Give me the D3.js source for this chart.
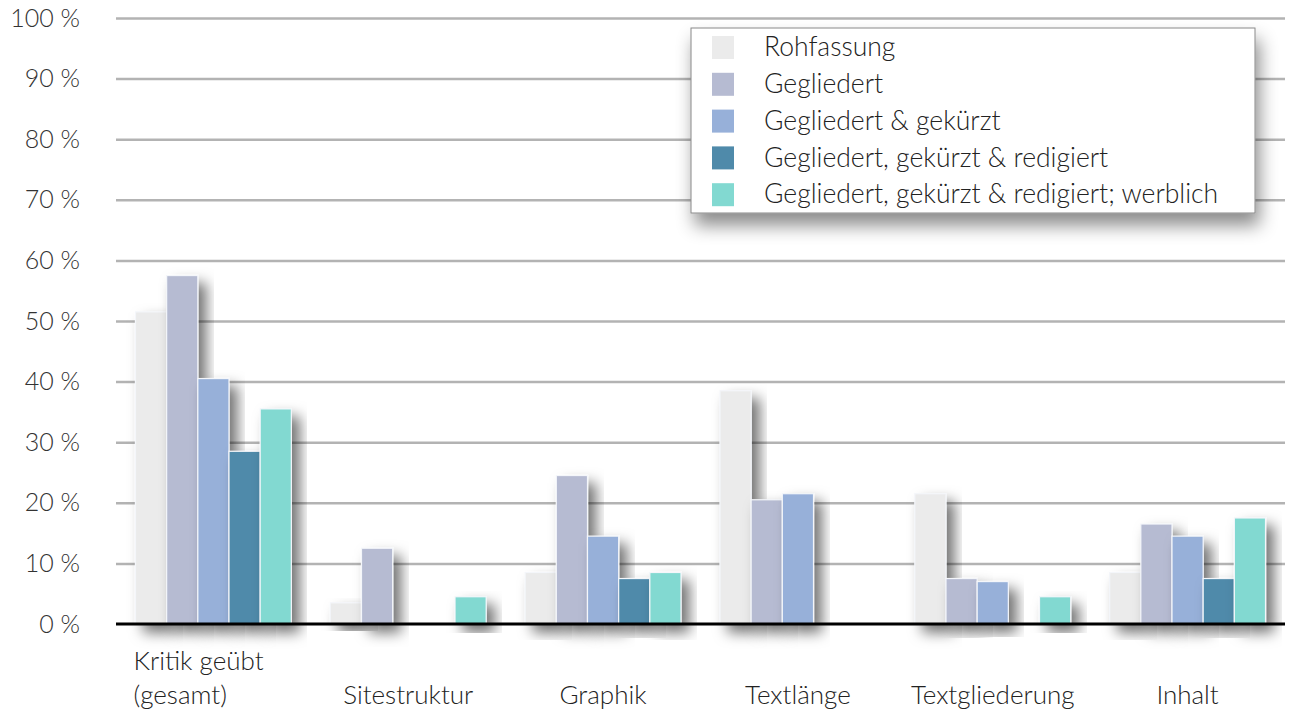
<!DOCTYPE html>
<html>
<head>
<meta charset="utf-8">
<script src="https://cdn.jsdelivr.net/npm/d3@7"></script>
<style>
  html, body { margin: 0; padding: 0; background: #fff; }
  svg { display: block; font-family: Lato, "Open Sans", sans-serif; font-weight: 300; }
</style>
</head>
<body>
<svg id="chart"></svg>
<script>
// categories on the x axis (two-line label for the first one)
const categories = ["Kritik geübt\n(gesamt)", "Sitestruktur", "Graphik", "Textlänge", "Textgliederung", "Inhalt"];
const seriesNames = [
  "Rohfassung",
  "Gegliedert",
  "Gegliedert & gekürzt",
  "Gegliedert, gekürzt & redigiert",
  "Gegliedert, gekürzt & redigiert; werblich"
];
const seriesColors = ["#ebebeb", "#b6bbd2", "#97b0d9", "#4f8aaa", "#82d9d1"];
// percent values per series, same order as categories (0 = no bar)
const rohfassung  = [51.5, 3.5, 8.5, 38.5, 21.5, 8.5];
const gegliedert  = [57.5, 12.5, 24.5, 20.5, 7.5, 16.5];
const gekuerzt    = [40.5, 0, 14.5, 21.5, 7, 14.5];
const redigiert   = [28.5, 0, 7.5, 0, 0, 7.5];
const werblich    = [35.5, 4.5, 8.5, 0, 4.5, 17.5];
const yTicks = [0, 10, 20, 30, 40, 50, 60, 70, 80, 90, 100];

const width = 1290;
const height = 713;
const marginTop = 18;
const marginRight = 5;
const marginBottom = 89;
const marginLeft = 116;

const allSeries = [rohfassung, gegliedert, gekuerzt, redigiert, werblich];
const data = [];
categories.forEach((c, i) => {
  allSeries.forEach((s, j) => {
    if (s[i] > 0) data.push({cat: c, key: seriesNames[j], value: s[i]});
  });
});

const x = d3.scaleBand()
    .domain(categories)
    .range([marginLeft, width - marginRight])
    .paddingInner(0.2)
    .paddingOuter(0.1);

const xs = d3.scaleBand()
    .domain(seriesNames)
    .range([0, x.bandwidth()]);

const y = d3.scaleLinear()
    .domain([0, 100])
    .range([height - marginBottom, marginTop]);

const color = d3.scaleOrdinal()
    .domain(seriesNames)
    .range(seriesColors);

const svg = d3.select("#chart")
    .attr("width", width)
    .attr("height", height)
    .attr("viewBox", [0, 0, width, height]);

// soft drop shadow used by bars and legend
const defs = svg.append("defs");
defs.append("filter")
    .attr("id", "shadow")
    .attr("x", "-50%").attr("y", "-20%")
    .attr("width", "200%").attr("height", "150%")
  .append("feDropShadow")
    .attr("dx", 8).attr("dy", 8)
    .attr("stdDeviation", 7)
    .attr("flood-color", "#000")
    .attr("flood-opacity", 0.55);
defs.append("filter")
    .attr("id", "shadowLegend")
    .attr("x", "-10%").attr("y", "-20%")
    .attr("width", "120%").attr("height", "160%")
  .append("feDropShadow")
    .attr("dx", 4).attr("dy", 12)
    .attr("stdDeviation", 9)
    .attr("flood-color", "#000")
    .attr("flood-opacity", 0.45);

// y axis with grid lines
svg.append("g")
    .attr("transform", `translate(${marginLeft},0)`)
    .call(d3.axisLeft(y).tickValues(yTicks).tickSize(0).tickPadding(36).tickFormat(d => d + " %"))
    .call(g => g.select(".domain").remove())
    .call(g => g.selectAll(".tick text")
        .attr("font-family", "Lato, sans-serif")
        .attr("font-weight", 300)
        .attr("font-size", 25)
        .attr("fill", "#333"))
    .call(g => g.selectAll(".tick").filter(d => d > 0).append("line")
        .attr("x2", width - marginLeft - marginRight)
        .attr("stroke", "#b3b3b3")
        .attr("stroke-width", 2.5));

// bars
svg.append("g")
  .selectAll("rect")
  .data(data)
  .join("rect")
    .attr("x", d => x(d.cat) + xs(d.key))
    .attr("y", d => y(d.value))
    .attr("width", xs.bandwidth())
    .attr("height", d => y(0) - y(d.value))
    .attr("fill", d => color(d.key))
    .attr("stroke", "#f4f6fa")
    .attr("stroke-width", 1.2)
    .attr("filter", "url(#shadow)");

// baseline
svg.append("line")
    .attr("x1", marginLeft)
    .attr("x2", width - marginRight)
    .attr("y1", y(0))
    .attr("y2", y(0))
    .attr("stroke", "#000")
    .attr("stroke-width", 3);

// category labels
const catG = svg.append("g")
    .attr("font-size", 26)
    .attr("fill", "#222");
categories.forEach(c => {
  const lines = c.split("\n");
  if (lines.length > 1) {
    catG.append("text")
        .attr("x", x(c) - 2)
        .attr("y", 670)
        .attr("fill", "#222")
      .selectAll("tspan")
      .data(lines)
      .join("tspan")
        .attr("x", x(c) - 2)
        .attr("dy", (d, i) => i ? 34 : 0)
        .text(d => d);
  } else {
    catG.append("text")
        .attr("x", x(c) + x.bandwidth() / 2)
        .attr("y", 704)
        .attr("text-anchor", "middle")
        .attr("fill", "#222")
        .text(c);
  }
});

// legend
const legend = svg.append("g").attr("transform", "translate(691,28)");
legend.append("rect")
    .attr("width", 564)
    .attr("height", 185)
    .attr("fill", "#fff")
    .attr("stroke", "#888")
    .attr("stroke-width", 1)
    .attr("filter", "url(#shadowLegend)");
const items = legend.selectAll("g.item")
  .data(seriesNames)
  .join("g")
    .attr("class", "item")
    .attr("transform", (d, i) => `translate(0,${19 + i * 36.8})`);
items.append("rect")
    .attr("x", 21)
    .attr("y", -11)
    .attr("width", 22)
    .attr("height", 23)
    .attr("fill", d => color(d));
items.append("text")
    .attr("x", 73)
    .attr("y", 0)
    .attr("dy", "0.35em")
    .attr("font-size", 26.5)
    .attr("fill", "#222")
    .text(d => d);
</script>
</body>
</html>
